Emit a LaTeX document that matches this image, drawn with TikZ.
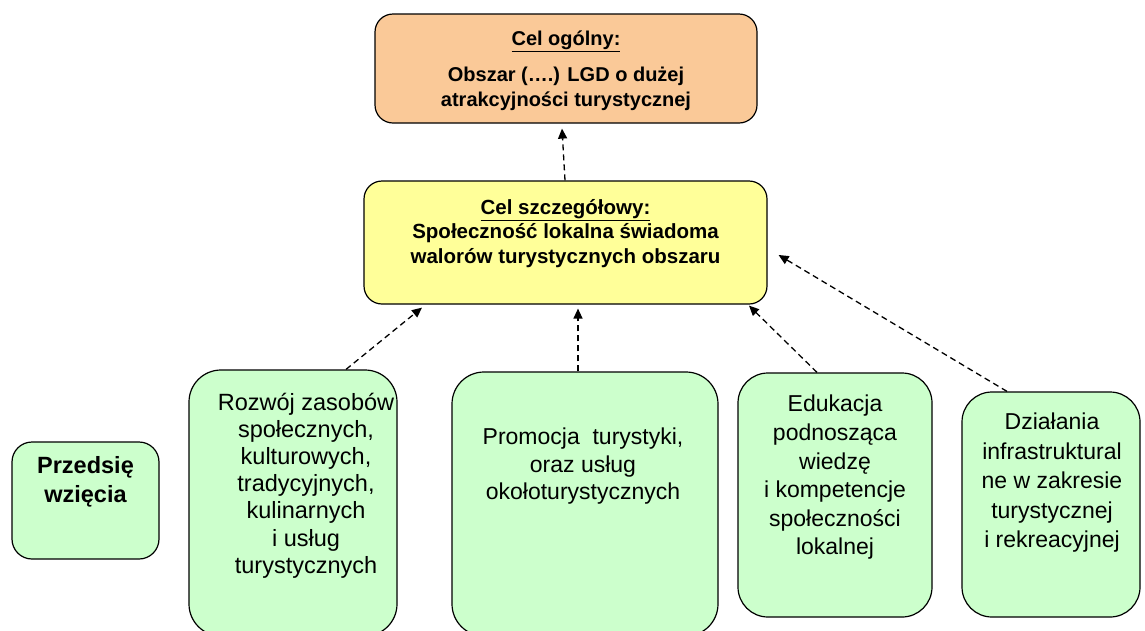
\documentclass[tikz,border=0pt]{standalone}
\usepackage{fontspec}
\setmainfont{Liberation Sans}
\usetikzlibrary{arrows.meta,positioning}

\definecolor{ogolnyfill}{RGB}{250,201,152}
\definecolor{szczegfill}{RGB}{255,255,153}
\definecolor{zadaniefill}{RGB}{204,255,204}

\begin{document}
\begin{tikzpicture}[
    x=1pt,
    y=-1pt,
    cel/.style={
        rectangle,
        draw,
        line width=1.2pt,
        rounded corners=18pt,
        inner sep=0pt
    },
    zadanie/.style={
        cel,
        fill=zadaniefill,
        rounded corners=32pt
    },
    tekst/.style={
        align=center,
        inner sep=0pt,
        font=\fontsize{23.5}{28}\selectfont
    },
    pogrubiony/.style={
        align=center,
        inner sep=0pt,
        font=\bfseries\fontsize{20.5}{24.5}\selectfont
    },
    strz/.style={
        -{Triangle[length=10pt,width=9pt]},
        dash pattern=on 6pt off 4pt,
        line width=1.3pt,
        sharp corners
    }
]
\useasboundingbox (0,0) rectangle (1145,630);

% Boxes
\node[cel, fill=ogolnyfill, minimum width=382pt, minimum height=109pt] (ogolny) at (566,68.5) {};
\node[cel, fill=szczegfill, minimum width=403pt, minimum height=123pt] (szczeg) at (565.5,242.5) {};
\node[zadanie, rounded corners=20pt, minimum width=147pt, minimum height=117pt] (przedsiewziecia) at (85.5,500.5) {};
\node[zadanie, minimum width=208pt, minimum height=266pt] (rozwoj) at (293,503) {};
\node[zadanie, minimum width=266pt, minimum height=264pt] (promocja) at (585,504) {};
\node[zadanie, rounded corners=30pt, minimum width=194pt, minimum height=244pt] (edukacja) at (835,495) {};
\node[zadanie, rounded corners=30pt, minimum width=178pt, minimum height=225pt] (dzialania) at (1051,504.5) {};

% Texts
\node[pogrubiony, font=\bfseries\fontsize{20}{25}\selectfont] (ogolny-txt) at (566,70.5)
    {\underline{Cel ogólny:}\\[11pt]Obszar (….) LGD o dużej\\atrakcyjności turystycznej};
\node[pogrubiony] (szczeg-txt) at (565.5,233.5)
    {\underline{Cel szczegółowy:}\\Społeczność lokalna świadoma\\walorów turystycznych obszaru};
\node[pogrubiony, font=\bfseries\fontsize{23.5}{29}\selectfont] (przedsiewziecia-txt) at (85.5,481.5)
    {Przedsię\\wzięcia};
\node[tekst, font=\fontsize{23.5}{27.2}\selectfont] (rozwoj-txt) at (306,485.5)
    {Rozwój zasobów\\społecznych,\\kulturowych,\\tradycyjnych,\\kulinarnych\\i usług\\turystycznych};
\node[tekst, font=\fontsize{23}{27.5}\selectfont] (promocja-txt) at (583,466.5)
    {Promocja\ \ turystyki,\\oraz usług\\okołoturystycznych};
\node[tekst, font=\fontsize{23}{28.6}\selectfont] (edukacja-txt) at (835,477.5)
    {Edukacja\\podnosząca\\wiedzę\\i kompetencje\\społeczności\\lokalnej};
\node[tekst, font=\fontsize{23}{29.5}\selectfont] (dzialania-txt) at (1052,483)
    {Działania\\infrastruktural\\ne w zakresie\\turystycznej\\i rekreacyjnej};

% Arrows
\draw[strz] ([xshift=-0.5pt]szczeg.north) -- ([xshift=-4pt,yshift=-5pt]ogolny.south);
\draw[strz] ([xshift=53pt]rozwoj.north) -- ([xshift=-143.5pt,yshift=-3pt]szczeg.south);
\draw[strz] ([xshift=-7pt]promocja.north) -- ([xshift=12.5pt,yshift=-4pt]szczeg.south);
\draw[strz] ([xshift=-18pt]edukacja.north) -- ([xshift=183.5pt,yshift=-1pt]szczeg.south);
\draw[strz] ([xshift=-44pt]dzialania.north) -- ([xshift=11pt,yshift=-12.5pt]szczeg.east);

\end{tikzpicture}
\end{document}
